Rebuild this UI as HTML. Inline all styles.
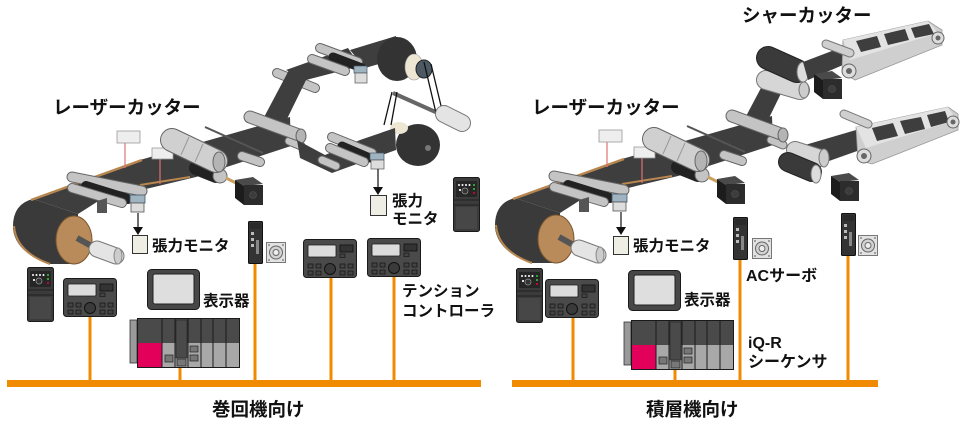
<!DOCTYPE html>
<html><head><meta charset="utf-8">
<style>
html,body{margin:0;padding:0;background:#fff;}
svg{display:block;}
text{font-family:"Liberation Sans","Noto Sans CJK JP",sans-serif;fill:#111;font-weight:bold;}
</style></head><body>
<svg width="960" height="423" viewBox="0 0 960 423" xmlns="http://www.w3.org/2000/svg">
<defs>
 <g id="inv">
  <rect x="0.5" y="0.5" width="26" height="54" rx="2" fill="#3b3b3b" stroke="#1a1a1a"/>
  <rect x="3" y="4" width="21" height="16" fill="#262626"/>
  <g fill="#fff"><circle cx="6" cy="8" r="1"/><circle cx="9.5" cy="8" r="1"/><circle cx="13" cy="8" r="1"/><circle cx="16.5" cy="8" r="1"/></g>
  <circle cx="21" cy="8" r="1" fill="#3c3"/><circle cx="21" cy="12" r="1" fill="#3c3"/><circle cx="21" cy="16" r="1" fill="#e03"/>
  <circle cx="12" cy="14" r="3" fill="#333" stroke="#999" stroke-width="0.7"/>
  <rect x="6" y="12" width="2" height="2" fill="#ddd"/>
  <line x1="1" y1="23" x2="26" y2="23" stroke="#222"/>
  <line x1="1" y1="28" x2="26" y2="28" stroke="#222"/>
  <rect x="3" y="30" width="21" height="22" fill="#474747"/>
 </g>
 <g id="ctl">
  <rect x="0.5" y="0.5" width="53" height="38" rx="3" fill="#4a4a4a" stroke="#1a1a1a"/>
  <rect x="5" y="6" width="28" height="12" rx="1" fill="#dcdcdc" stroke="#1a1a1a" stroke-width="0.8"/>
  <rect x="37" y="6" width="13" height="7" fill="#333" stroke="#111" stroke-width="0.8"/>
  <rect x="37" y="15" width="5" height="3.5" fill="#444" stroke="#111" stroke-width="0.6"/>
  <g fill="#444" stroke="#111" stroke-width="0.7">
   <rect x="5" y="25" width="5" height="4"/><rect x="13" y="25" width="5" height="4"/>
   <rect x="5" y="32" width="5" height="4"/><rect x="13" y="32" width="5" height="4"/>
   <rect x="37" y="25" width="5" height="4"/><rect x="45" y="25" width="5" height="4"/>
   <rect x="37" y="32" width="5" height="4"/><rect x="45" y="32" width="5" height="4"/>
  </g>
  <circle cx="27" cy="30" r="5.5" fill="#3a3a3a" stroke="#111"/>
 </g>
 <g id="hmi">
  <rect x="0.5" y="0.5" width="52" height="40" rx="4" fill="#474747" stroke="#1a1a1a"/>
  <rect x="6" y="5" width="41" height="30" rx="2" fill="#dedede" stroke="#222"/>
 </g>
 <g id="plc">
  <rect x="-7" y="2" width="7" height="43" fill="#9a9a9a" stroke="#333" stroke-width="0.8"/>
  <rect x="0.5" y="0.5" width="102" height="49" fill="#4a4a4a" stroke="#1a1a1a"/>
  <rect x="1" y="25" width="24" height="24" fill="#e2005a"/>
  <rect x="25" y="25" width="13" height="24" fill="#a8a8a8"/>
  <rect x="51" y="25" width="13" height="24" fill="#a8a8a8"/>
  <rect x="64" y="25" width="12" height="24" fill="#a8a8a8"/>
  <rect x="76" y="25" width="13" height="24" fill="#a8a8a8"/>
  <rect x="89" y="25" width="13" height="24" fill="#a8a8a8"/>
  <rect x="38" y="25" width="13" height="24" fill="#a8a8a8"/>
  <rect x="39" y="2" width="11" height="38" fill="#4a4a4a" stroke="#222" stroke-width="0.6"/>
  <g stroke="#1a1a1a" stroke-width="1">
   <line x1="25" y1="0" x2="25" y2="50"/><line x1="38" y1="0" x2="38" y2="50"/>
   <line x1="51" y1="0" x2="51" y2="50"/><line x1="64" y1="0" x2="64" y2="50"/>
   <line x1="76" y1="0" x2="76" y2="50"/><line x1="89" y1="0" x2="89" y2="50"/>
  </g>
  <g fill="#777" stroke="#222" stroke-width="0.7">
   <rect x="28" y="37" width="8" height="7"/><rect x="40" y="41" width="9" height="7"/>
   <rect x="53" y="28" width="8" height="6"/><rect x="53" y="37" width="8" height="6"/>
  </g>
 </g>
 <g id="amp">
  <rect x="0.5" y="0.5" width="14" height="42" rx="1" fill="#333" stroke="#111"/>
  <rect x="2" y="2" width="11" height="6" fill="#2a2a2a"/>
  <g fill="#bbb"><rect x="3" y="11" width="3" height="3"/><rect x="3" y="17" width="3" height="3"/><rect x="3" y="23" width="3" height="3"/></g>
  <rect x="8" y="19" width="3" height="14" fill="#888"/>
 </g>
 <g id="msq">
  <rect x="0.5" y="0.5" width="19" height="20" fill="#e2e2e2" stroke="#777"/>
  <circle cx="10" cy="10.5" r="6.5" fill="#d2d2d2" stroke="#666"/>
  <circle cx="10" cy="10.5" r="3" fill="#eee" stroke="#666"/>
  <g fill="#888"><circle cx="3" cy="3" r="1"/><circle cx="17" cy="3" r="1"/><circle cx="3" cy="18" r="1"/><circle cx="17" cy="18" r="1"/></g>
 </g>
 <g id="mot">
  <polygon points="2,3 20,0 30,7 11,9" fill="#4a4a4a"/>
  <polygon points="2,3 11,9 11,28 2,21" fill="#1c1c1c"/>
  <rect x="11" y="8" width="19" height="20" fill="#2c2c2c"/>
  <circle cx="20" cy="18" r="3.5" fill="#3c3c3c" stroke="#555" stroke-width="0.6"/>
 </g>
 <g id="base">
  <path d="M78,214 L33,199 Q12,204 13,229 Q16,253 50,264 L78,264 Z" fill="#3a3a3a"/>
  <polygon points="33,199 140,160 290,117 291,146 196,177 100,200 78,214" fill="#3e3e3e"/>
  <line x1="31" y1="200" x2="142" y2="160" stroke="#b8864f" stroke-width="2.5"/>
  <path d="M14,226 Q16,252 50,264" fill="none" stroke="#b8864f" stroke-width="2"/>
  <path d="M140,185 L190,177" stroke="#b8864f" stroke-width="2" fill="none"/>
  <ellipse cx="74" cy="240" rx="18" ry="24" fill="#b98b5b" stroke="#7a5630" stroke-width="1"/>
  <line x1="77" y1="238" x2="95" y2="248" stroke="#555" stroke-width="6"/>
  <line x1="97" y1="249" x2="116" y2="256" stroke="#777" stroke-width="17" stroke-linecap="round"/>
  <line x1="97" y1="249" x2="116" y2="256" stroke="#e4e4e4" stroke-width="15" stroke-linecap="round"/>
  <ellipse cx="118" cy="256" rx="4" ry="8" fill="#ccc" stroke="#888"/>
  <line x1="72" y1="177" x2="142" y2="191" stroke="#666" stroke-width="11" stroke-linecap="round"/>
  <line x1="72" y1="177" x2="142" y2="191" stroke="#c4c4c4" stroke-width="9" stroke-linecap="round"/>
  <line x1="86" y1="186" x2="128" y2="199" stroke="#222" stroke-width="10" stroke-linecap="round"/>
  <line x1="72" y1="188" x2="122" y2="203" stroke="#666" stroke-width="10" stroke-linecap="round"/>
  <line x1="72" y1="188" x2="122" y2="203" stroke="#c4c4c4" stroke-width="8" stroke-linecap="round"/>
  <polygon points="97,201 107,198 107,213 97,213" fill="#555"/>
  <rect x="130" y="195" width="15" height="8" fill="#9fb3c0" stroke="#456" stroke-width="0.8"/>
  <rect x="131" y="203" width="13" height="9" fill="#ddd" stroke="#555" stroke-width="0.8"/>
  <line x1="125" y1="143" x2="125" y2="168" stroke="#e07070" stroke-width="1.2"/>
  <line x1="160" y1="158" x2="160" y2="184" stroke="#e07070" stroke-width="1.2"/>
  <rect x="117" y="131" width="23" height="12" fill="#eee" stroke="#999" stroke-width="0.8"/>
  <rect x="152" y="148" width="21" height="11" fill="#eee" stroke="#999" stroke-width="0.8"/>
  <line x1="196" y1="168" x2="216" y2="176" stroke="#222" stroke-width="14" stroke-linecap="round"/>
  <circle cx="220" cy="176" r="7" fill="#c4c4c4" stroke="#666"/>
  <line x1="226" y1="178" x2="236" y2="183" stroke="#c9a060" stroke-width="3"/>
  <line x1="172" y1="140" x2="216" y2="161" stroke="#666" stroke-width="24" stroke-linecap="round"/>
  <line x1="172" y1="140" x2="216" y2="161" stroke="#d0d0d0" stroke-width="22" stroke-linecap="round"/>
  <g stroke="#999" stroke-width="1"><line x1="189" y1="137" x2="181" y2="155"/><line x1="203" y1="144" x2="195" y2="162"/></g>
  <ellipse cx="219" cy="162" rx="6" ry="10" fill="#b4b4b4" stroke="#666"/>
  <use href="#mot" x="233" y="177"/>
  <line x1="205" y1="127" x2="263" y2="153" stroke="#555" stroke-width="2"/>
  <line x1="242" y1="156" x2="260" y2="162" stroke="#666" stroke-width="10" stroke-linecap="round"/>
  <line x1="242" y1="156" x2="260" y2="162" stroke="#c4c4c4" stroke-width="8" stroke-linecap="round"/>
  <polygon points="262,121 286,121 309,74 289,70" fill="#3e3e3e"/>
  <line x1="289" y1="141" x2="301" y2="146" stroke="#666" stroke-width="9" stroke-linecap="round"/>
  <line x1="289" y1="141" x2="301" y2="146" stroke="#c4c4c4" stroke-width="7" stroke-linecap="round"/>
  <line x1="250" y1="117" x2="299" y2="135" stroke="#666" stroke-width="13" stroke-linecap="round"/>
  <line x1="250" y1="117" x2="299" y2="135" stroke="#c4c4c4" stroke-width="11" stroke-linecap="round"/>
  <ellipse cx="301" cy="136" rx="5" ry="7" fill="#b4b4b4" stroke="#666"/>
 </g>
</defs>

<!-- LEFT MACHINE -->
<line x1="277" y1="73" x2="315" y2="88" stroke="#666" stroke-width="10" stroke-linecap="round"/>
<line x1="277" y1="73" x2="315" y2="88" stroke="#c4c4c4" stroke-width="8" stroke-linecap="round"/>
<use href="#base"/>
<polygon points="286,70 348,48 360,66 306,80" fill="#3e3e3e"/>
<polygon points="350,50 396,36 400,58 365,68" fill="#3e3e3e"/>
<ellipse cx="397" cy="59" rx="20" ry="22" fill="#333"/>
<ellipse cx="414" cy="67" rx="9" ry="13" fill="#ece6d2" stroke="#999" stroke-width="0.6"/>
<ellipse cx="424" cy="69" rx="8" ry="9" fill="#4d5a63" stroke="#222"/>
<line x1="320" y1="48" x2="358" y2="62" stroke="#666" stroke-width="10" stroke-linecap="round"/>
<line x1="320" y1="48" x2="358" y2="62" stroke="#c4c4c4" stroke-width="8" stroke-linecap="round"/>
<line x1="333" y1="57" x2="362" y2="68" stroke="#222" stroke-width="9" stroke-linecap="round"/>
<line x1="312" y1="59" x2="345" y2="71" stroke="#666" stroke-width="10" stroke-linecap="round"/>
<line x1="312" y1="59" x2="345" y2="71" stroke="#c4c4c4" stroke-width="8" stroke-linecap="round"/>
<rect x="354" y="66" width="13" height="7" fill="#9fb3c0" stroke="#456" stroke-width="0.7"/>
<rect x="355" y="73" width="12" height="10" fill="#ddd" stroke="#555" stroke-width="0.7"/>
<ellipse cx="418" cy="145" rx="22" ry="21" fill="#333"/>
<ellipse cx="399" cy="128" rx="9" ry="6" fill="#ece6d2"/>
<circle cx="428" cy="148" r="3" fill="#777"/>
<line x1="393" y1="93" x2="440" y2="114" stroke="#666" stroke-width="4"/>
<g stroke="#111" stroke-width="1.3">
 <line x1="424" y1="62" x2="436" y2="113"/><line x1="431" y1="64" x2="442" y2="110"/>
 <line x1="392" y1="92" x2="384" y2="125"/><line x1="397" y1="92" x2="391" y2="125"/>
</g>
<line x1="444" y1="114" x2="462" y2="123" stroke="#777" stroke-width="18" stroke-linecap="round"/>
<line x1="444" y1="114" x2="462" y2="123" stroke="#e4e4e4" stroke-width="16" stroke-linecap="round"/>
<polygon points="297,140 325,155 360,140 395,128 396,150 365,161 332,173 300,158" fill="#3e3e3e"/>
<line x1="322" y1="160" x2="336" y2="166" stroke="#666" stroke-width="9" stroke-linecap="round"/>
<line x1="322" y1="160" x2="336" y2="166" stroke="#c4c4c4" stroke-width="7" stroke-linecap="round"/>
<line x1="332" y1="137" x2="372" y2="153" stroke="#666" stroke-width="10" stroke-linecap="round"/>
<line x1="332" y1="137" x2="372" y2="153" stroke="#c4c4c4" stroke-width="8" stroke-linecap="round"/>
<line x1="342" y1="146" x2="370" y2="158" stroke="#222" stroke-width="9" stroke-linecap="round"/>
<line x1="330" y1="148" x2="364" y2="162" stroke="#666" stroke-width="10" stroke-linecap="round"/>
<line x1="330" y1="148" x2="364" y2="162" stroke="#c4c4c4" stroke-width="8" stroke-linecap="round"/>
<rect x="370" y="153" width="14" height="7" fill="#9fb3c0" stroke="#456" stroke-width="0.7"/>
<rect x="371" y="160" width="13" height="9" fill="#ddd" stroke="#555" stroke-width="0.7"/>

<line x1="138" y1="213" x2="138" y2="228" stroke="#111" stroke-width="1.2"/>
<polygon points="133,227 143,227 138,235" fill="#111"/>
<rect x="132.5" y="235.5" width="15" height="18" fill="#efeee4" stroke="#333"/>
<line x1="378" y1="169" x2="378" y2="188" stroke="#111" stroke-width="1.2"/>
<polygon points="373,187 383,187 378,195" fill="#111"/>
<rect x="370.5" y="195.5" width="16" height="20" fill="#efeee4" stroke="#333"/>

<!-- RIGHT MACHINE -->
<use href="#base" x="482" y="-1"/>
<line x1="766" y1="80" x2="800" y2="90" stroke="#777" stroke-width="20" stroke-linecap="round"/>
<line x1="766" y1="80" x2="800" y2="90" stroke="#d6d6d6" stroke-width="18" stroke-linecap="round"/>
<ellipse cx="804" cy="90" rx="5" ry="8" fill="#ccc" stroke="#777"/>
<line x1="768" y1="58" x2="797" y2="71" stroke="#222" stroke-width="24" stroke-linecap="round"/>
<line x1="768" y1="58" x2="797" y2="71" stroke="#3a3a3a" stroke-width="22" stroke-linecap="round"/>
<ellipse cx="803" cy="72" rx="6" ry="10" fill="#ddd" stroke="#777"/>
<polygon points="803,62 845,46 850,62 808,80" fill="#3e3e3e"/>
<polygon points="843,40 928,21 942,30 942,45 855,80 842,72" fill="#cfcfcf" stroke="#999" stroke-width="0.8"/>
<polygon points="843,40 928,21 938,33 850,60" fill="#e3e3e3"/>
<g fill="#3e3e3e">
 <polygon points="856,41 877,36 881,47 861,52"/>
 <polygon points="884,34 905,29 909,40 888,45"/>
 <polygon points="911,28 929,24 934,34 915,38"/>
</g>
<circle cx="849" cy="71" r="7" fill="#ddd" stroke="#666"/><circle cx="849" cy="71" r="3" fill="#666"/>
<circle cx="938" cy="38" r="6" fill="#ddd" stroke="#666"/><circle cx="938" cy="38" r="2.5" fill="#666"/>
<line x1="826" y1="44" x2="850" y2="53" stroke="#777" stroke-width="9" stroke-linecap="round"/>
<line x1="826" y1="44" x2="850" y2="53" stroke="#cfcfcf" stroke-width="7" stroke-linecap="round"/>
<use href="#mot" x="812" y="71"/>
<polygon points="805,145 856,130 860,150 815,166" fill="#3e3e3e"/>
<line x1="795" y1="150" x2="820" y2="158" stroke="#777" stroke-width="18" stroke-linecap="round"/>
<line x1="795" y1="150" x2="820" y2="158" stroke="#d6d6d6" stroke-width="16" stroke-linecap="round"/>
<ellipse cx="824" cy="158" rx="5" ry="9" fill="#ccc" stroke="#777"/>
<line x1="788" y1="162" x2="812" y2="172" stroke="#222" stroke-width="20" stroke-linecap="round"/>
<line x1="788" y1="162" x2="812" y2="172" stroke="#3a3a3a" stroke-width="18" stroke-linecap="round"/>
<ellipse cx="816" cy="174" rx="5" ry="9" fill="#ddd" stroke="#777"/>
<polygon points="856,127 948,107 958,114 958,130 872,164 858,160" fill="#cfcfcf" stroke="#999" stroke-width="0.8"/>
<polygon points="856,127 948,107 956,120 866,148" fill="#e3e3e3"/>
<g fill="#3e3e3e">
 <polygon points="872,128 893,123 898,136 877,141"/>
 <polygon points="900,121 921,117 925,129 905,134"/>
 <polygon points="927,115 945,111 949,122 931,127"/>
</g>
<circle cx="864" cy="156" r="7" fill="#ddd" stroke="#666"/><circle cx="864" cy="156" r="3" fill="#666"/>
<circle cx="953" cy="122" r="6" fill="#ddd" stroke="#666"/><circle cx="953" cy="122" r="2.5" fill="#666"/>
<line x1="844" y1="114" x2="868" y2="124" stroke="#777" stroke-width="9" stroke-linecap="round"/>
<line x1="844" y1="114" x2="868" y2="124" stroke="#cfcfcf" stroke-width="7" stroke-linecap="round"/>
<use href="#mot" x="829" y="173"/>
<line x1="621" y1="212" x2="621" y2="228" stroke="#111" stroke-width="1.2"/>
<polygon points="616,227 626,227 621,235" fill="#111"/>
<rect x="613.5" y="236.5" width="15" height="18" fill="#efeee4" stroke="#333"/>

<!-- ORANGE NETWORK -->
<g fill="#f08a00">
 <rect x="7" y="380" width="474" height="7"/>
 <rect x="512" y="380" width="366" height="7"/>
 <rect x="88.5" y="316" width="3" height="66"/>
 <rect x="178.5" y="362" width="3" height="20"/>
 <rect x="253.5" y="262" width="3" height="120"/>
 <rect x="329.5" y="276" width="3" height="106"/>
 <rect x="392.5" y="276" width="3" height="106"/>
 <rect x="571.5" y="316" width="3" height="66"/>
 <rect x="673.5" y="366" width="3" height="16"/>
 <rect x="738.5" y="258" width="3" height="124"/>
 <rect x="846.5" y="255" width="3" height="127"/>
</g>

<!-- DEVICES -->
<use href="#inv" x="27" y="267"/>
<use href="#ctl" x="63" y="278"/>
<use href="#hmi" x="147" y="269"/>
<use href="#plc" x="137" y="318"/>
<use href="#amp" x="248" y="221"/>
<use href="#msq" x="266" y="242"/>
<use href="#ctl" x="303" y="239"/>
<use href="#ctl" x="367" y="238"/>
<use href="#inv" x="453" y="177"/>
<use href="#inv" x="516" y="268"/>
<use href="#ctl" x="545" y="279"/>
<use href="#hmi" x="628" y="270"/>
<use href="#plc" x="631" y="320"/>
<use href="#amp" x="733" y="217"/>
<use href="#msq" x="752" y="238"/>
<use href="#amp" x="841" y="213"/>
<use href="#msq" x="858" y="235"/>

<!-- TEXT -->
<text x="53" y="114" font-size="18.5">レーザーカッター</text>
<text x="532" y="114" font-size="18.5">レーザーカッター</text>
<text x="742" y="22" font-size="18.5">シャーカッター</text>
<text x="392" y="206" font-size="15.5">張力</text>
<text x="392" y="224" font-size="15.5">モニタ</text>
<text x="152" y="251" font-size="15.5">張力モニタ</text>
<text x="203" y="306" font-size="15.5">表示器</text>
<text x="402" y="296" font-size="15.5">テンション</text>
<text x="402" y="316" font-size="15.5">コントローラ</text>
<text x="212" y="416" font-size="18.5">巻回機向け</text>
<text x="633" y="251" font-size="15.5">張力モニタ</text>
<text x="684" y="305" font-size="15.5">表示器</text>
<text x="746" y="281" font-size="16">ACサーボ</text>
<text x="748" y="348" font-size="16">iQ-R</text>
<text x="748" y="367" font-size="16">シーケンサ</text>
<text x="646" y="416" font-size="18.5">積層機向け</text>
</svg>
</body></html>
